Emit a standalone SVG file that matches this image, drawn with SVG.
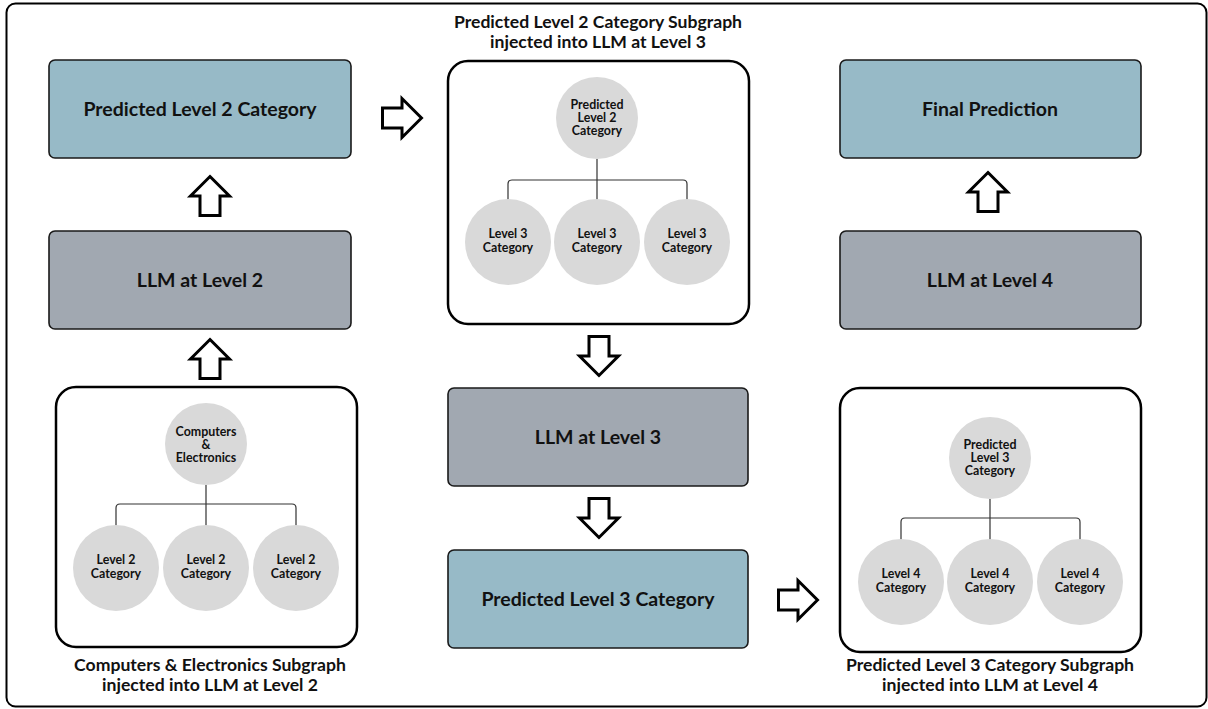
<svg xmlns="http://www.w3.org/2000/svg" xmlns:xlink="http://www.w3.org/1999/xlink" width="1208" height="709" viewBox="0 0 1208 709">
<style>
.t{font-family:Lato,"Open Sans","Liberation Sans",sans-serif;font-weight:bold;fill:#111;text-anchor:middle}
.bt{font-size:19.5px}
.ct{font-size:12.4px}
.tt{font-size:17.6px}
.blue{fill:#97bac7;stroke:#1a1a1a;stroke-width:1.6}
.gray{fill:#a1a8b1;stroke:#1a1a1a;stroke-width:1.6}
.sub{fill:#fff;stroke:#000;stroke-width:2.5}
.circ{fill:#d9d9d9}
.arr{fill:#fff;stroke:#000;stroke-width:3;stroke-linejoin:miter}
.ln{fill:none;stroke:#333;stroke-width:1.2}
</style>
<defs>
<path id="up" d="M0,-19.5 L19.5,0 L10,0 L10,19.5 L-10,19.5 L-10,0 L-19.5,0 Z"/>
</defs>
<rect x="6.5" y="3.5" width="1200" height="703" rx="9" fill="#fff" stroke="#000" stroke-width="2"/>

<g id="pred2">
<rect class="blue" x="49" y="60" width="302" height="98" rx="6"/>
<text class="t bt" x="200" y="116">Predicted Level 2 Category</text>
</g>
<g id="llm2">
<rect class="gray" x="49" y="231" width="302" height="98" rx="6"/>
<text class="t bt" x="200" y="287">LLM at Level 2</text>
</g>
<g id="sub2">
<rect class="sub" x="56" y="387" width="301" height="260" rx="20"/>
<circle class="circ" cx="206" cy="444" r="41"/>
<text class="t ct" x="206" y="436">Computers</text>
<text class="t ct" x="206" y="449">&amp;</text>
<text class="t ct" x="206" y="462">Electronics</text>
<path class="ln" d="M206,485 V504 M116,526 V508 Q116,504 120,504 H292 Q296,504 296,508 V526 M206,504 V526"/>
<circle class="circ" cx="116" cy="568" r="43"/>
<circle class="circ" cx="206" cy="568" r="43"/>
<circle class="circ" cx="296" cy="568" r="43"/>
<text class="t ct" x="116" y="564">Level 2</text><text class="t ct" x="116" y="578">Category</text>
<text class="t ct" x="206" y="564">Level 2</text><text class="t ct" x="206" y="578">Category</text>
<text class="t ct" x="296" y="564">Level 2</text><text class="t ct" x="296" y="578">Category</text>
<text class="t tt" x="210" y="671">Computers &amp; Electronics Subgraph</text>
<text class="t tt" x="210" y="691">injected into LLM at Level 2</text>
</g>

<g id="sub3">
<text class="t tt" x="598" y="28">Predicted Level 2 Category Subgraph</text>
<text class="t tt" x="598" y="48">injected into LLM at Level 3</text>
<rect class="sub" x="448" y="61" width="301" height="263" rx="20"/>
<circle class="circ" cx="597" cy="118" r="41"/>
<text class="t ct" x="597" y="109">Predicted</text>
<text class="t ct" x="597" y="122">Level 2</text>
<text class="t ct" x="597" y="135">Category</text>
<path class="ln" d="M597,159 V180 M508,200 V184 Q508,180 512,180 H683 Q687,180 687,184 V200 M597,180 V200"/>
<circle class="circ" cx="508" cy="242" r="43"/>
<circle class="circ" cx="597" cy="242" r="43"/>
<circle class="circ" cx="687" cy="242" r="43"/>
<text class="t ct" x="508" y="238">Level 3</text><text class="t ct" x="508" y="252">Category</text>
<text class="t ct" x="597" y="238">Level 3</text><text class="t ct" x="597" y="252">Category</text>
<text class="t ct" x="687" y="238">Level 3</text><text class="t ct" x="687" y="252">Category</text>
</g>
<g id="llm3">
<rect class="gray" x="448" y="388" width="300" height="98" rx="6"/>
<text class="t bt" x="598" y="444">LLM at Level 3</text>
</g>
<g id="pred3">
<rect class="blue" x="448" y="550" width="300" height="98" rx="6"/>
<text class="t bt" x="598" y="606">Predicted Level 3 Category</text>
</g>

<g id="final">
<rect class="blue" x="840" y="60" width="301" height="98" rx="6"/>
<text class="t bt" x="990" y="116">Final Prediction</text>
</g>
<g id="llm4">
<rect class="gray" x="840" y="231" width="301" height="98" rx="6"/>
<text class="t bt" x="990" y="287">LLM at Level 4</text>
</g>
<g id="sub4">
<rect class="sub" x="840" y="388" width="301" height="264" rx="20"/>
<circle class="circ" cx="990" cy="458" r="41"/>
<text class="t ct" x="990" y="449">Predicted</text>
<text class="t ct" x="990" y="462">Level 3</text>
<text class="t ct" x="990" y="475">Category</text>
<path class="ln" d="M990,499 V518 M901,541 V522 Q901,518 905,518 H1076 Q1080,518 1080,522 V541 M990,518 V541"/>
<circle class="circ" cx="901" cy="582" r="43"/>
<circle class="circ" cx="990" cy="582" r="43"/>
<circle class="circ" cx="1080" cy="582" r="43"/>
<text class="t ct" x="901" y="578">Level 4</text><text class="t ct" x="901" y="592">Category</text>
<text class="t ct" x="990" y="578">Level 4</text><text class="t ct" x="990" y="592">Category</text>
<text class="t ct" x="1080" y="578">Level 4</text><text class="t ct" x="1080" y="592">Category</text>
<text class="t tt" x="990" y="671">Predicted Level 3 Category Subgraph</text>
<text class="t tt" x="990" y="691">injected into LLM at Level 4</text>
</g>

<g id="connectors">
<use xlink:href="#up" class="arr" transform="translate(210,196)"/>
<use xlink:href="#up" class="arr" transform="translate(210,359)"/>
<use xlink:href="#up" class="arr" transform="translate(402,118) rotate(90)"/>
<use xlink:href="#up" class="arr" transform="translate(599,356) rotate(180)"/>
<use xlink:href="#up" class="arr" transform="translate(599,518) rotate(180)"/>
<use xlink:href="#up" class="arr" transform="translate(798,600) rotate(90)"/>
<use xlink:href="#up" class="arr" transform="translate(988,192)"/>
</g>
</svg>
